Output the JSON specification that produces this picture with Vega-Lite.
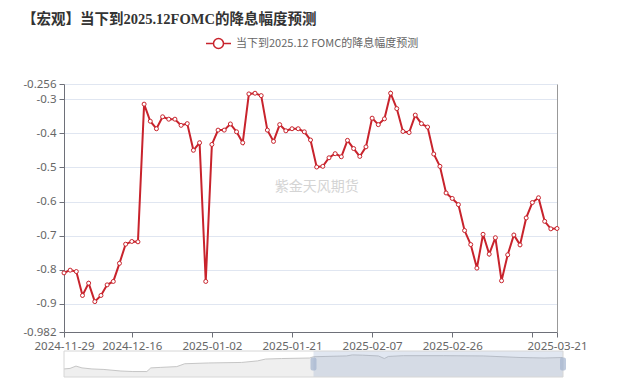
{
  "$schema": "https://vega.github.io/schema/vega-lite/v6.json",
  "autosize": {"type": "pad"},
  "padding": {"left": 22, "top": 11, "right": 44, "bottom": 5},
  "background": "white",
  "bounds": "flush",
  "spacing": 19,
  "title": {
    "text": "【宏观】当下到2025.12FOMC的降息幅度预测",
    "anchor": "start",
    "frame": "group",
    "dx": -42,
    "offset": 3,
    "font": "Liberation Serif, Noto Sans CJK SC",
    "fontSize": 14.5,
    "fontWeight": "bold",
    "color": "#333333"
  },
  "config": {
    "view": {"stroke": null},
    "axis": {
      "labelFont": "Noto Sans",
      "labelFontSize": 11.5,
      "labelColor": "#666666",
      "domainColor": "#6E7079",
      "tickColor": "#6E7079",
      "gridColor": "#E0E6F1",
      "title": null
    }
  },
  "vconcat": [
    {
      "width": 493,
      "height": 248,
      "data": {
        "values": [
          {"date": "2024-11-29", "value": -0.809},
          {"date": "2024-12-02", "value": -0.801},
          {"date": "2024-12-03", "value": -0.805},
          {"date": "2024-12-04", "value": -0.875},
          {"date": "2024-12-05", "value": -0.839},
          {"date": "2024-12-06", "value": -0.893},
          {"date": "2024-12-09", "value": -0.875},
          {"date": "2024-12-10", "value": -0.844},
          {"date": "2024-12-11", "value": -0.834},
          {"date": "2024-12-12", "value": -0.781},
          {"date": "2024-12-13", "value": -0.725},
          {"date": "2024-12-16", "value": -0.717},
          {"date": "2024-12-17", "value": -0.718},
          {"date": "2024-12-18", "value": -0.315},
          {"date": "2024-12-19", "value": -0.365},
          {"date": "2024-12-20", "value": -0.387},
          {"date": "2024-12-23", "value": -0.352},
          {"date": "2024-12-24", "value": -0.359},
          {"date": "2024-12-25", "value": -0.359},
          {"date": "2024-12-26", "value": -0.377},
          {"date": "2024-12-27", "value": -0.372},
          {"date": "2024-12-30", "value": -0.450},
          {"date": "2024-12-31", "value": -0.428},
          {"date": "2025-01-01", "value": -0.834},
          {"date": "2025-01-02", "value": -0.433},
          {"date": "2025-01-03", "value": -0.391},
          {"date": "2025-01-06", "value": -0.391},
          {"date": "2025-01-07", "value": -0.373},
          {"date": "2025-01-08", "value": -0.396},
          {"date": "2025-01-09", "value": -0.428},
          {"date": "2025-01-10", "value": -0.285},
          {"date": "2025-01-13", "value": -0.283},
          {"date": "2025-01-14", "value": -0.290},
          {"date": "2025-01-15", "value": -0.391},
          {"date": "2025-01-16", "value": -0.424},
          {"date": "2025-01-17", "value": -0.375},
          {"date": "2025-01-20", "value": -0.393},
          {"date": "2025-01-21", "value": -0.387},
          {"date": "2025-01-22", "value": -0.387},
          {"date": "2025-01-23", "value": -0.396},
          {"date": "2025-01-24", "value": -0.420},
          {"date": "2025-01-27", "value": -0.499},
          {"date": "2025-01-28", "value": -0.497},
          {"date": "2025-01-29", "value": -0.472},
          {"date": "2025-01-30", "value": -0.460},
          {"date": "2025-01-31", "value": -0.469},
          {"date": "2025-02-03", "value": -0.421},
          {"date": "2025-02-04", "value": -0.445},
          {"date": "2025-02-05", "value": -0.468},
          {"date": "2025-02-06", "value": -0.440},
          {"date": "2025-02-07", "value": -0.356},
          {"date": "2025-02-10", "value": -0.375},
          {"date": "2025-02-11", "value": -0.358},
          {"date": "2025-02-12", "value": -0.283},
          {"date": "2025-02-13", "value": -0.328},
          {"date": "2025-02-14", "value": -0.395},
          {"date": "2025-02-17", "value": -0.398},
          {"date": "2025-02-18", "value": -0.347},
          {"date": "2025-02-19", "value": -0.372},
          {"date": "2025-02-20", "value": -0.382},
          {"date": "2025-02-21", "value": -0.461},
          {"date": "2025-02-24", "value": -0.497},
          {"date": "2025-02-25", "value": -0.575},
          {"date": "2025-02-26", "value": -0.591},
          {"date": "2025-02-27", "value": -0.609},
          {"date": "2025-02-28", "value": -0.685},
          {"date": "2025-03-03", "value": -0.726},
          {"date": "2025-03-04", "value": -0.795},
          {"date": "2025-03-05", "value": -0.696},
          {"date": "2025-03-06", "value": -0.754},
          {"date": "2025-03-07", "value": -0.706},
          {"date": "2025-03-10", "value": -0.832},
          {"date": "2025-03-11", "value": -0.756},
          {"date": "2025-03-12", "value": -0.698},
          {"date": "2025-03-13", "value": -0.727},
          {"date": "2025-03-14", "value": -0.648},
          {"date": "2025-03-17", "value": -0.603},
          {"date": "2025-03-18", "value": -0.589},
          {"date": "2025-03-19", "value": -0.658},
          {"date": "2025-03-20", "value": -0.680},
          {"date": "2025-03-21", "value": -0.679}
        ]
      },
      "resolve": {"axis": {"y": "independent"}},
      "layer": [
        {
          "data": {"values": [{"mark": "紫金天风期货", "date": "2025-01-27", "value": -0.558}]},
          "mark": {"type": "text", "font": "Noto Sans CJK SC", "fontSize": 14, "color": "#d4d4d4", "align": "center", "baseline": "middle"},
          "encoding": {
            "x": {"field": "date", "type": "ordinal"},
            "y": {"field": "value", "type": "quantitative",
                  "axis": {"orient": "right", "labels": false, "ticks": false, "grid": false, "domain": true, "domainColor": "#999999"}},
            "text": {"field": "mark"}
          }
        },
        {
          "mark": {
            "type": "line",
            "strokeWidth": 2,
            "point": {"filled": false, "fill": "white", "size": 16, "strokeWidth": 1}
          },
          "encoding": {
            "x": {
              "field": "date",
              "type": "ordinal",
              "scale": {"type": "point", "padding": 0},
              "axis": {
                "values": ["2024-11-29", "2024-12-16", "2025-01-02", "2025-01-21", "2025-02-07", "2025-02-26", "2025-03-17", "2025-03-21"],
                "labelExpr": "datum.value == '2025-03-17' ? '' : datum.value",
                "labelAngle": 0,
                "labelAlign": "center",
                "labelBaseline": "top",
                "labelPadding": 3,
                "labelOverlap": false,
                "tickSize": 5,
                "grid": false
              }
            },
            "y": {
              "field": "value",
              "type": "quantitative",
              "scale": {"domain": [-0.982, -0.256], "nice": false, "zero": false},
              "axis": {
                "values": [-0.982, -0.9, -0.8, -0.7, -0.6, -0.5, -0.4, -0.3, -0.256],
                "labelExpr": "'' + datum.value",
                "tickSize": 5,
                "labelPadding": 3,
                "grid": true
              }
            },
            "color": {
              "datum": "当下到2025.12 FOMC的降息幅度预测",
              "type": "nominal",
              "scale": {"range": ["#c8232c"]},
              "legend": {
                "orient": "none",
                "legendX": 141,
                "legendY": -54,
                "title": null,
                "padding": 0,
                "labelLimit": 0,
                "symbolType": "M-1,0L-0.42,0M0.42,0L1,0M-0.4,0A0.4,0.4,0,1,1,0.4,0A0.4,0.4,0,1,1,-0.4,0",
                "symbolSize": 625,
                "symbolStrokeWidth": 1.5,
                "symbolFillColor": "white",
                "symbolStrokeColor": "#c8232c",
                "labelFont": "Noto Sans CJK SC",
                "labelFontSize": 11,
                "labelColor": "#666666"
              }
            }
          }
        }
      ]
    },
    {
      "width": 499,
      "height": 26,
      "data": {
        "values": [
          {"pos": 0, "level": 31},
          {"pos": 1.2, "level": 33},
          {"pos": 2.4, "level": 42},
          {"pos": 3.6, "level": 35},
          {"pos": 5.6, "level": 31},
          {"pos": 8, "level": 29},
          {"pos": 11.4, "level": 23},
          {"pos": 13.8, "level": 21},
          {"pos": 16.6, "level": 21},
          {"pos": 17.4, "level": 35},
          {"pos": 19.4, "level": 37},
          {"pos": 22.6, "level": 40},
          {"pos": 24.2, "level": 51},
          {"pos": 29, "level": 54},
          {"pos": 35.6, "level": 56},
          {"pos": 38.8, "level": 62},
          {"pos": 40.4, "level": 69},
          {"pos": 43.6, "level": 71},
          {"pos": 49.2, "level": 73},
          {"pos": 50, "level": 78},
          {"pos": 56.6, "level": 81},
          {"pos": 57.8, "level": 85},
          {"pos": 59.8, "level": 84},
          {"pos": 63, "level": 81},
          {"pos": 64.2, "level": 71},
          {"pos": 65, "level": 79},
          {"pos": 68, "level": 82},
          {"pos": 76, "level": 82},
          {"pos": 84, "level": 81},
          {"pos": 91.4, "level": 75},
          {"pos": 96.2, "level": 73},
          {"pos": 100, "level": 75}
        ]
      },
      "layer": [
        {
          "mark": {"type": "area", "color": "#e8e8e8", "line": {"color": "#c6c6c6", "strokeWidth": 1}},
          "encoding": {
            "x": {"field": "pos", "type": "quantitative", "scale": {"domain": [0, 100], "nice": false}, "axis": null},
            "y": {"field": "level", "type": "quantitative", "scale": {"domain": [0, 100], "nice": false}, "axis": null}
          }
        },
        {
          "data": {"values": [{"from": 50, "to": 100}]},
          "mark": {"type": "rect", "color": "#8aa2c8", "opacity": 0.26},
          "encoding": {
            "x": {"field": "from", "type": "quantitative"},
            "x2": {"field": "to"}
          }
        },
        {
          "data": {"values": [{"from": 0, "to": 100}]},
          "mark": {"type": "rect", "fill": null, "fillOpacity": 0, "stroke": "#d6d6d6", "strokeWidth": 1},
          "encoding": {
            "x": {"field": "from", "type": "quantitative"},
            "x2": {"field": "to"}
          }
        },
        {
          "data": {"values": [{"edge": 50}, {"edge": 100}]},
          "mark": {"type": "tick", "orient": "vertical", "color": "#a3b4cf", "thickness": 6, "size": 13, "cornerRadius": 2},
          "encoding": {
            "x": {"field": "edge", "type": "quantitative"}
          }
        }
      ]
    }
  ]
}
